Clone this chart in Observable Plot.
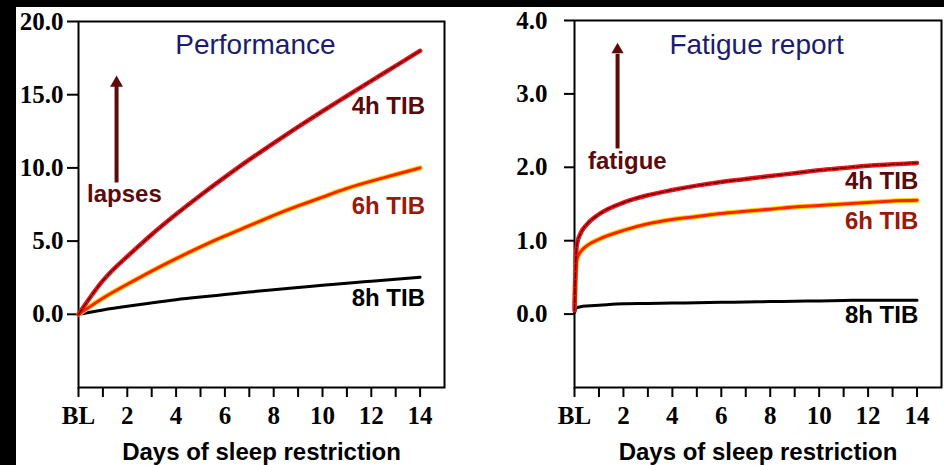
<!DOCTYPE html>
<html>
<head>
<meta charset="utf-8">
<script src="https://cdn.jsdelivr.net/npm/d3@7"></script>
<script src="https://cdn.jsdelivr.net/npm/@observablehq/plot@0.6"></script>
<style>
  html, body { margin: 0; padding: 0; background: #000; }
  #wrap { position: relative; width: 944px; height: 465px; background: #000; overflow: hidden; }
  #paper { position: absolute; left: 16px; top: 7px; right: 0; bottom: 0; background: #fff; }
  #left { position: absolute; left: 0; top: 0; }
  #right { position: absolute; left: 472px; top: 0; }
</style>
</head>
<body>
<div id="wrap">
  <div id="paper"></div>
  <div id="left"></div>
  <div id="right"></div>
</div>
<script>
// ---------- data ----------
const xTicks = [0,1,2,3,4,5,6,7,8,9,10,11,12,13,14];
const xTickLabels = ["BL","","2","","4","","6","","8","","10","","12","","14"];
const xAxisTitle = "Days of sleep restriction";

// Performance (lapses)
const perfDays = [0,1,2,3,4,5,6,7,8,9,10,11,12,13,14];
const perf4h = [0, 2.3, 3.95, 5.45, 6.83, 8.13, 9.37, 10.56, 11.70, 12.80, 13.87, 14.91, 15.95, 16.97, 18.0];
const perf6h = [0, 1.1, 2.05, 2.95, 3.8, 4.6, 5.35, 6.05, 6.75, 7.4, 8.0, 8.6, 9.1, 9.55, 10.0];
const perf8h = [0, 0.3, 0.55, 0.78, 1.0, 1.18, 1.35, 1.52, 1.68, 1.83, 1.98, 2.12, 2.26, 2.4, 2.53];
const perfYTicks = [0, 5, 10, 15, 20];

// Fatigue report
const fatDays = [0, 0.05, 0.1, 0.25, 0.5, 1, 2, 3, 4, 5, 6, 7, 8, 9, 10, 11, 12, 13, 14];
const fat4h = [0.05, 0.7, 0.95, 1.1, 1.22, 1.36, 1.52, 1.62, 1.69, 1.75, 1.80, 1.84, 1.88, 1.92, 1.96, 1.99, 2.02, 2.04, 2.06];
const fat6h = [0.1, 0.55, 0.75, 0.85, 0.93, 1.02, 1.14, 1.23, 1.29, 1.33, 1.37, 1.40, 1.43, 1.46, 1.48, 1.50, 1.52, 1.54, 1.55];
const fat8h = [0.02, 0.07, 0.09, 0.1, 0.11, 0.12, 0.14, 0.145, 0.15, 0.155, 0.16, 0.165, 0.17, 0.175, 0.18, 0.185, 0.19, 0.19, 0.19];
const fatYTicks = [0, 1, 2, 3, 4];

// annotations (data units)
const perfLabels = [
  {text: "4h TIB", day: 14.2, value: 13.7, color: "#5a0a0a"},
  {text: "6h TIB", day: 14.2, value: 6.85, color: "#9a1a08"},
  {text: "8h TIB", day: 14.2, value: 0.55, color: "#000000"}
];
const fatLabels = [
  {text: "4h TIB", day: 14.05, value: 1.70, color: "#5a0a0a"},
  {text: "6h TIB", day: 14.05, value: 1.16, color: "#9a1a08"},
  {text: "8h TIB", day: 14.05, value: -0.12, color: "#000000"}
];

// ---------- drawing ----------
const SERIF = "'Liberation Serif', 'DejaVu Serif', serif";
const SANS = "'Liberation Sans', Arial, sans-serif";
const ARROW = "#5c0a0a";

function rowsOf(days, vals) { return days.map((d, i) => ({day: d, value: vals[i]})); }

function panel(o) {
  const r4 = rowsOf(o.days, o.s4), r6 = rowsOf(o.days, o.s6), r8 = rowsOf(o.days, o.s8);
  const curve = o.curve;
  return Plot.plot({
    width: 472, height: 465,
    marginLeft: o.marginLeft, marginRight: o.marginRight, marginTop: o.marginTop, marginBottom: 78,
    x: {domain: [0, 15]},
    y: {domain: o.yDomain},
    style: {background: "transparent", fontFamily: SANS, color: "#000", overflow: "visible"},
    marks: [
      Plot.frame({stroke: "#000", strokeWidth: 2}),
      Plot.axisY({ticks: o.yTicks, tickFormat: d => d.toFixed(1), tickSize: o.yTickSize, tickPadding: o.yTickPadding,
        strokeWidth: 2, fontSize: 25, fontWeight: "bold", fontFamily: SERIF, label: null}),
      Plot.axisX({ticks: xTicks, tickFormat: d => xTickLabels[xTicks.indexOf(d)], tickSize: 10, tickPadding: 9,
        strokeWidth: 2, fontSize: 25, fontWeight: "bold", fontFamily: SERIF, label: null}),
      Plot.text([xAxisTitle], {frameAnchor: "bottom", dy: 72, lineAnchor: "bottom", fontSize: 24, fontWeight: "bold", fontFamily: SANS, fill: "#000"}),
      // 8h
      Plot.line(r8, {x: "day", y: "value", stroke: "#000", strokeWidth: 3, curve}),
      // 6h
      Plot.line(r6, {x: "day", y: "value", stroke: "#ffd400", strokeWidth: 5, curve}),
      Plot.line(r6, {x: "day", y: "value", stroke: "#ff2200", strokeWidth: 3, curve}),
      // 4h
      Plot.line(r4, {x: "day", y: "value", stroke: "#e8171b", strokeWidth: 4.5, curve}),
      Plot.line(r4, {x: "day", y: "value", stroke: "#5c0000", strokeWidth: 1.4, strokeDasharray: "6,2", curve}),
      // series labels
      Plot.text(o.labels, {x: "day", y: "value", text: "text", fill: "color", textAnchor: "end", lineAnchor: "bottom",
        fontSize: 24, fontWeight: "bold", fontFamily: SANS}),
      // title
      Plot.text([o.title], {x: "day", y: "value", text: "text", textAnchor: "middle", lineAnchor: "bottom",
        fontSize: 28, fill: "#1c1c6e", fontFamily: SANS}),
      // arrow
      Plot.ruleX([o.arrow], {x: "day", y1: "from", y2: "to", stroke: ARROW, strokeWidth: 4}),
      Plot.dot([o.arrow], {x: "day", y: "head", symbol: "triangle", r: o.arrow.r, fill: ARROW, stroke: "none"}),
      Plot.text([o.arrowLabel], {x: "day", y: "value", text: "text", textAnchor: "middle", lineAnchor: "bottom",
        fontSize: 24, fontWeight: "bold", fill: ARROW, fontFamily: SANS})
    ]
  });
}

document.getElementById("left").append(panel({
  days: perfDays, s4: perf4h, s6: perf6h, s8: perf8h, curve: "natural",
  yDomain: [-5, 20], yTicks: perfYTicks, yTickSize: 11, yTickPadding: 4,
  marginLeft: 78, marginRight: 28, marginTop: 21,
  labels: perfLabels,
  title: {text: "Performance", day: 7.25, value: 17.8},
  arrow: {day: 1.56, from: 8.97, to: 15.6, head: 15.8, r: 4.8},
  arrowLabel: {text: "lapses", day: 1.88, value: 7.67}
}));

document.getElementById("right").append(panel({
  days: fatDays, s4: fat4h, s6: fat6h, s8: fat8h, curve: "monotone-x",
  yDomain: [-1, 4], yTicks: fatYTicks, yTickSize: 10, yTickPadding: 17,
  marginLeft: 102, marginRight: 3, marginTop: 20,
  labels: fatLabels,
  title: {text: "Fatigue report", day: 7.44, value: 3.54},
  arrow: {day: 1.76, from: 2.25, to: 3.54, head: 3.6, r: 4.5},
  arrowLabel: {text: "fatigue", day: 2.16, value: 1.98}
}));
</script>
</body>
</html>
